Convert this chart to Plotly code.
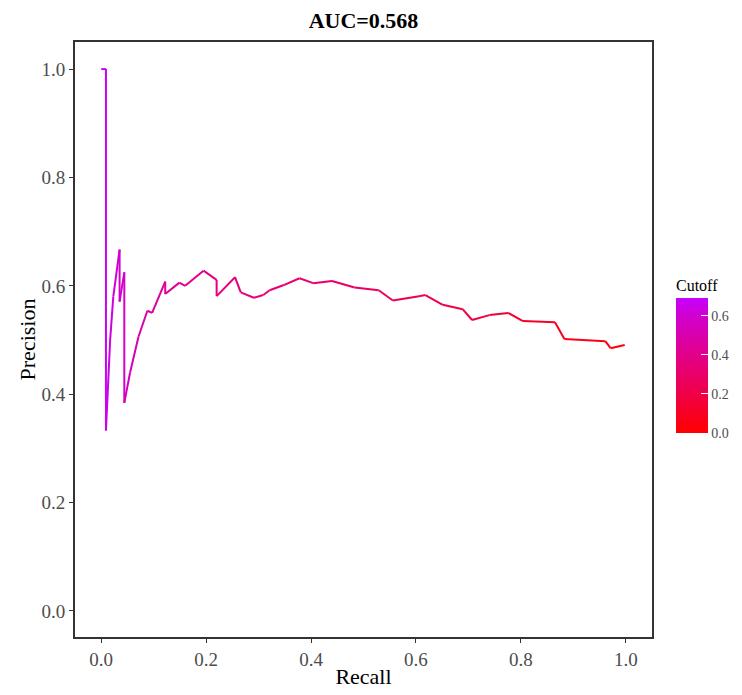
import plotly.graph_objects as go
from plotly.colors import sample_colorscale

recall = [0.000, 0.009, 0.009, 0.017, 0.023, 0.035, 0.035, 0.044, 0.044, 0.055,
          0.071, 0.088, 0.097, 0.122, 0.122, 0.149, 0.160, 0.195, 0.220, 0.220,
          0.255, 0.266, 0.291, 0.309, 0.321, 0.347, 0.378, 0.404, 0.440, 0.483,
          0.529, 0.556, 0.606, 0.618, 0.651, 0.689, 0.707, 0.740, 0.776, 0.804,
          0.865, 0.883, 0.961, 0.971, 0.998]
precision = [1.000, 1.000, 0.333, 0.500, 0.580, 0.667, 0.571, 0.625, 0.384, 0.440,
             0.506, 0.554, 0.550, 0.608, 0.585, 0.606, 0.600, 0.628, 0.611, 0.581,
             0.616, 0.588, 0.578, 0.583, 0.592, 0.601, 0.614, 0.605, 0.609, 0.597,
             0.592, 0.573, 0.581, 0.583, 0.565, 0.557, 0.537, 0.546, 0.550, 0.535,
             0.533, 0.502, 0.498, 0.485, 0.491]
cutoff = [0.69, 0.68, 0.66, 0.64, 0.62, 0.60, 0.59, 0.58, 0.56, 0.53,
          0.50, 0.48, 0.47, 0.45, 0.44, 0.42, 0.41, 0.39, 0.38, 0.37,
          0.36, 0.35, 0.34, 0.33, 0.33, 0.32, 0.31, 0.30, 0.29, 0.28,
          0.27, 0.26, 0.24, 0.23, 0.21, 0.19, 0.18, 0.16, 0.14, 0.12,
          0.09, 0.08, 0.04, 0.03, 0.01]

x_ticks = [0.0, 0.2, 0.4, 0.6, 0.8, 1.0]
y_ticks = [0.0, 0.2, 0.4, 0.6, 0.8, 1.0]
cb_ticks = [0.0, 0.2, 0.4, 0.6]

cmin, cmax = 0.0, 0.69
colorscale = [[0.0, "#FF0000"], [0.29, "#F00048"], [0.58, "#E2008A"],
              [0.87, "#D000D0"], [1.0, "#C800FF"]]

serif = "Liberation Serif, Times New Roman, serif"

W, H = 734, 687  # page body has an 8px offset
ML, MR, MT, MB = 67, 90, 34, 58

fig = go.Figure()
for i in range(len(recall) - 1):
    c = (cutoff[i] + cutoff[i + 1]) / 2
    col = sample_colorscale(colorscale, [(c - cmin) / (cmax - cmin)])[0]
    fig.add_trace(go.Scatter(
        x=[recall[i], recall[i + 1]], y=[precision[i], precision[i + 1]],
        mode="lines", line=dict(color=col, width=2),
        showlegend=False, hoverinfo="skip"))

fig.add_trace(go.Scatter(
    x=recall, y=precision, mode="markers",
    marker=dict(color=cutoff, colorscale=colorscale, cmin=cmin, cmax=cmax,
                size=1, opacity=0, showscale=True,
                colorbar=dict(
                    title=dict(text="Cutoff", side="top",
                               font=dict(family=serif, size=16, color="black")),
                    x=1.0416, xanchor="left", y=0.4748, yanchor="middle",
                    thickness=32, len=157, lenmode="pixels",
                    tickvals=cb_ticks, ticktext=[f"{v:.1f}" for v in cb_ticks],
                    ticks="inside", ticklen=7, tickcolor="white", tickwidth=1,
                    tickfont=dict(family=serif, size=14, color="#4D4D4D"),
                    outlinewidth=0, xpad=0, ypad=0)),
    showlegend=False, hoverinfo="skip"))

axis_common = dict(showgrid=False, zeroline=False, showline=True, mirror=True,
                   linecolor="#333333", linewidth=2, ticks="outside", ticklen=4,
                   tickcolor="#333333", tickwidth=1, automargin=False,
                   tickfont=dict(family=serif, size=19, color="#4D4D4D"))

fig.update_layout(
    width=W, height=H,
    margin=dict(l=ML, r=MR, t=MT, b=MB, autoexpand=False),
    plot_bgcolor="white", paper_bgcolor="white",
    title=dict(text="<b>AUC=0.568</b>", x=(ML + 577 / 2) / W, xanchor="center",
               y=1 - 12 / H, yanchor="middle",
               font=dict(family=serif, size=22, color="black")),
    xaxis=dict(range=[-0.05, 1.05], tickvals=x_ticks,
               ticktext=[f"{v:.1f}" for v in x_ticks],
               title=dict(text="Recall", standoff=0,
                          font=dict(family=serif, size=22, color="black")),
               **axis_common),
    yaxis=dict(range=[-0.048, 1.05], tickvals=y_ticks,
               ticktext=[f"{v:.1f}" for v in y_ticks],
               title=dict(text="Precision", standoff=0,
                          font=dict(family=serif, size=22, color="black")),
               **axis_common),
)

fig.write_html("out.html")
